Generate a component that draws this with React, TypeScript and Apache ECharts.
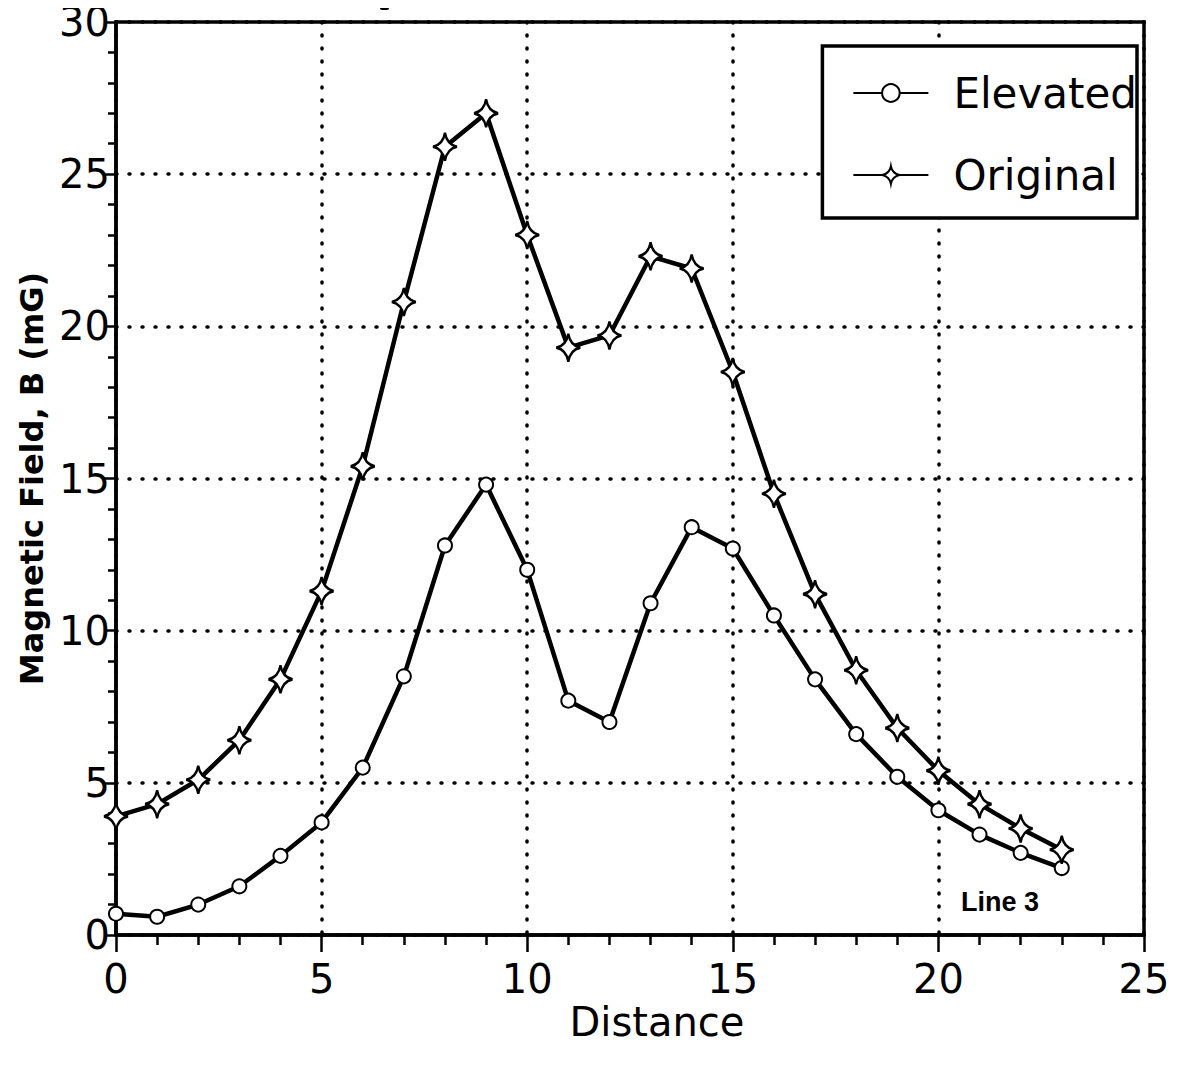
import React, { useEffect, useRef } from "react";
import * as echarts from "echarts";

const distances = [0, 1, 2, 3, 4, 5, 6, 7, 8, 9, 10, 11, 12, 13, 14, 15, 16, 17, 18, 19, 20, 21, 22, 23];
const elevated = [0.7, 0.6, 1.0, 1.6, 2.6, 3.7, 5.5, 8.5, 12.8, 14.8, 12.0, 7.7, 7.0, 10.9, 13.4, 12.7, 10.5, 8.4, 6.6, 5.2, 4.1, 3.3, 2.7, 2.2];
const original = [3.9, 4.3, 5.1, 6.4, 8.4, 11.3, 15.4, 20.8, 25.9, 27.0, 23.0, 19.3, 19.7, 22.3, 21.9, 18.5, 14.5, 11.2, 8.7, 6.8, 5.4, 4.3, 3.5, 2.8];
const seriesNames = ["Elevated", "Original"];

const FONT = "DejaVu Sans";
const STAR = "path://M0,-10 Q1.6,-1.6 10,0 Q1.6,1.6 0,10 Q-1.6,1.6 -10,0 Q-1.6,-1.6 0,-10Z";

export default function App() {
  const ref = useRef<HTMLDivElement>(null);
  useEffect(() => {
    if (!ref.current) return;
    const chart = echarts.init(ref.current, undefined, { renderer: "svg" });
    const axisCommon = {
      axisLine: { show: true, onZero: false, lineStyle: { color: "#000", width: 3.5 } },
      splitLine: { show: true, lineStyle: { color: "#000", type: [1, 12], cap: "round", width: 3.5 } },
      axisLabel: { color: "#000", fontFamily: FONT, fontSize: 40 },
    };
    chart.setOption({
      animation: false,
      backgroundColor: "#fff",
      grid: { left: 116, right: 40, top: 22, bottom: 137, show: true, borderColor: "#000", borderWidth: 3.5 },
      xAxis: {
        type: "value",
        min: 0,
        max: 25,
        interval: 5,
        ...axisCommon,
        axisTick: { show: true, inside: false, length: 17, lineStyle: { color: "#000", width: 2.5 } },
        minorTick: { show: true, splitNumber: 5, length: 10, lineStyle: { color: "#000", width: 2.5 } },
        axisLabel: { ...axisCommon.axisLabel, margin: 24 },
      },
      yAxis: {
        type: "value",
        min: 0,
        max: 30,
        interval: 5,
        name: "Magnetic Field, B (mG)",
        nameLocation: "middle",
        nameGap: 68,
        nameTextStyle: { color: "#000", fontFamily: FONT, fontSize: 32, fontWeight: "bold" },
        ...axisCommon,
        axisTick: { show: true, inside: false, length: 12, lineStyle: { color: "#000", width: 2.5 } },
        minorTick: { show: true, splitNumber: 5, length: 8, lineStyle: { color: "#000", width: 2.5 } },
        axisLabel: { ...axisCommon.axisLabel, margin: 6 },
      },
      legend: {
        orient: "vertical",
        right: 47,
        top: 46,
        itemWidth: 75,
        itemHeight: 22,
        itemGap: 40,
        padding: [26, 0, 22, 30],
        borderColor: "#000",
        borderWidth: 3.5,
        backgroundColor: "#fff",
        textStyle: { color: "#000", fontFamily: FONT, fontSize: 42, padding: [0, 0, 0, 20] },
        data: seriesNames,
      },
      graphic: [
        {
          type: "text",
          x: 657,
          y: 1022,
          style: { text: "Distance", fill: "#000", font: `40px '${FONT}'`, align: "center", verticalAlign: "middle" },
        },
        {
          type: "text",
          x: 1000,
          y: 902,
          style: { text: "Line 3", fill: "#000", font: `bold 27px 'Liberation Sans'`, align: "center", verticalAlign: "middle" },
        },
        { type: "rect", shape: { x: 380, y: 6, width: 9, height: 4, r: 2 }, style: { fill: "#000" } },
      ],
      series: [
        {
          name: seriesNames[0],
          type: "line",
          data: distances.map((d, i) => [d, elevated[i]]),
          symbol: "circle",
          symbolSize: 14,
          lineStyle: { color: "#000", width: 4.5 },
          itemStyle: { color: "#fff", borderColor: "#000", borderWidth: 2 },
        },
        {
          name: seriesNames[1],
          type: "line",
          data: distances.map((d, i) => [d, original[i]]),
          symbol: STAR,
          symbolSize: [24, 28],
          lineStyle: { color: "#000", width: 4.5 },
          itemStyle: { color: "#fff", borderColor: "#000", borderWidth: 2.5 },
        },
      ],
    });
    return () => chart.dispose();
  }, []);
  return <div ref={ref} style={{ width: 1184, height: 1072, margin: -8 }} />;
}
